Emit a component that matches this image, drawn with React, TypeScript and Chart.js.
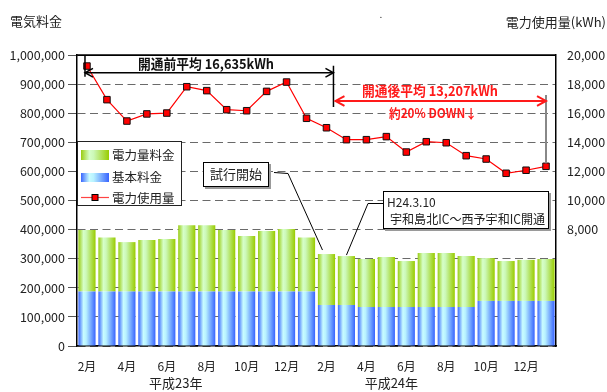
import React, { useEffect, useRef } from 'react';
import { Chart, registerables } from 'chart.js';

Chart.register(...registerables);

const FONT = "'Noto Sans CJK JP', 'Noto Sans', sans-serif";

const months = ['2月', '3月', '4月', '5月', '6月', '7月', '8月', '9月', '10月', '11月', '12月', '1月',
  '2月', '3月', '4月', '5月', '6月', '7月', '8月', '9月', '10月', '11月', '12月', '1月'];

const basicCharge = [187000, 187000, 187000, 187000, 187000, 187000, 187000, 187000, 187000, 187000, 187000, 187000,
  141000, 141000, 134000, 134000, 134000, 134000, 134000, 134000, 155000, 155000, 155000, 155000];

const energyCharge = [212000, 186000, 170000, 177000, 181000, 228000, 228000, 212000, 191000, 208000, 215000, 186000,
  175000, 168000, 165000, 172000, 158000, 186000, 186000, 175000, 147000, 137000, 141000, 144000];

const usageKWh = [19240, 16930, 15460, 15950, 16010, 17820, 17550, 16240, 16170, 17500, 18140, 15650,
  15000, 14180, 14180, 14390, 13330, 14040, 13970, 13080, 12850, 11870, 12080, 12350];

const yearLabels = ['平成23年', '平成24年'];
const seriesNames = ['電力量料金', '基本料金', '電力使用量'];
const leftTitle = '電気料金';
const rightTitle = '電力使用量(kWh)';
const rightTickMin = 8000;
const beforeText = '開通前平均 16,635kWh';
const afterText = '開通後平均 13,207kWh';
const downText = '約20% DOWN↓';
const trialText = '試行開始';
const openDate = 'H24.3.10';
const openText = '宇和島北IC～西予宇和IC開通';

const BAR_PCT = 0.86;
const BLUE_STOPS: [number, string][] = [[0, '#3a66ff'], [0.3, '#c8fcff'], [0.45, '#b8f2ff'], [1, '#3864ff']];
const GREEN_STOPS: [number, string][] = [[0, '#99cc11'], [0.3, '#d6ffc8'], [0.45, '#ccf8b8'], [1, '#99cc00']];

function barGradient(chart: any, i: number, stops: [number, string][]) {
  const xs = chart.scales && chart.scales.x;
  if (!xs) return stops[0][1];
  const cx = xs.getPixelForValue(i);
  const w = (xs.width / months.length) * BAR_PCT;
  if (!isFinite(cx) || !isFinite(w) || w <= 0) return stops[0][1];
  const g = chart.ctx.createLinearGradient(cx - w / 2, 0, cx + w / 2, 0);
  stops.forEach(([o, c]) => g.addColorStop(o, c));
  return g;
}

function swatchGradient(ctx: CanvasRenderingContext2D, x: number, w: number, stops: [number, string][]) {
  const g = ctx.createLinearGradient(x, 0, x + w, 0);
  stops.forEach(([o, c]) => g.addColorStop(o, c));
  return g;
}

function chevron(ctx: CanvasRenderingContext2D, x: number, y: number, dir: number, size: number) {
  ctx.beginPath();
  ctx.moveTo(x - dir * size, y - size * 0.55);
  ctx.lineTo(x, y);
  ctx.lineTo(x - dir * size, y + size * 0.55);
  ctx.stroke();
}

function calloutBox(ctx: CanvasRenderingContext2D, x: number, y: number, w: number, h: number) {
  ctx.fillStyle = '#9a9a9a';
  ctx.fillRect(x + 2, y + 2, w, h);
  ctx.fillStyle = '#fff';
  ctx.fillRect(x, y, w, h);
  ctx.strokeStyle = '#000';
  ctx.lineWidth = 1;
  ctx.strokeRect(x + 0.5, y + 0.5, w - 1, h - 1);
}

const overlayPlugin = {
  id: 'overlay',
  afterDraw(chart: any) {
    const { ctx, chartArea: a, scales } = chart;
    const xs = scales.x;
    const ys = scales.y;
    const y1 = scales.y1;
    const X = (i: number) => xs.getPixelForValue(i);
    const U = (v: number) => y1.getPixelForValue(v);
    ctx.save();

    // top border
    ctx.strokeStyle = '#000';
    ctx.lineWidth = 1.5;
    ctx.beginPath();
    ctx.moveTo(a.left, a.top);
    ctx.lineTo(a.right, a.top);
    ctx.stroke();

    // axis titles
    ctx.fillStyle = '#222';
    ctx.textBaseline = 'middle';
    ctx.font = `13px ${FONT}`;
    ctx.textAlign = 'left';
    ctx.fillText(leftTitle, 10, 21);
    ctx.textAlign = 'right';
    ctx.fillText(rightTitle, 606, 22);
    ctx.textAlign = 'center';
    ctx.font = `10px ${FONT}`;
    ctx.fillText('.', 381, 14);

    // year labels
    ctx.font = `13px ${FONT}`;
    ctx.fillStyle = '#222';
    ctx.fillText(yearLabels[0], X(4.45), 383);
    ctx.fillText(yearLabels[1], X(15.25), 383);

    // legend box
    const lx = a.left, ly = 141, lw = 105, lh = 65;
    ctx.fillStyle = '#fff';
    ctx.fillRect(lx, ly, lw, lh);
    ctx.strokeStyle = '#222';
    ctx.lineWidth = 1;
    ctx.strokeRect(lx + 0.5, ly + 0.5, lw - 1, lh - 1);
    ctx.fillStyle = swatchGradient(ctx, 81, 28, GREEN_STOPS);
    ctx.fillRect(81, 150, 28, 10);
    ctx.fillStyle = swatchGradient(ctx, 81, 28, BLUE_STOPS);
    ctx.fillRect(81, 173, 28, 9);
    ctx.strokeStyle = '#ff4444';
    ctx.lineWidth = 1.2;
    ctx.beginPath();
    ctx.moveTo(81, 197.5);
    ctx.lineTo(109, 197.5);
    ctx.stroke();
    ctx.fillStyle = '#ff0000';
    ctx.fillRect(92, 194.5, 6, 6);
    ctx.strokeStyle = '#000';
    ctx.lineWidth = 1;
    ctx.strokeRect(92, 194.5, 6, 6);
    ctx.fillStyle = '#222';
    ctx.textAlign = 'left';
    ctx.font = `12.5px ${FONT}`;
    ctx.fillText(seriesNames[0], 112, 155, 66);
    ctx.fillText(seriesNames[1], 112, 177, 66);
    ctx.fillText(seriesNames[2], 112, 198, 66);

    // callout 1: trial start
    const t13 = ys.getPixelForValue(basicCharge[12] + energyCharge[12]);
    ctx.strokeStyle = '#000';
    ctx.lineWidth = 1;
    ctx.beginPath();
    ctx.moveTo(274, 172.5);
    ctx.lineTo(288, 173.5);
    ctx.lineTo(X(12) - 4, t13 - 4);
    ctx.stroke();
    calloutBox(ctx, 203, 162, 66, 25);
    ctx.fillStyle = '#222';
    ctx.textAlign = 'center';
    ctx.font = `13px ${FONT}`;
    ctx.fillText(trialText, 236, 174.5);

    // callout 2: opening
    const t14 = ys.getPixelForValue(basicCharge[13] + energyCharge[13]);
    ctx.strokeStyle = '#000';
    ctx.lineWidth = 1;
    ctx.beginPath();
    ctx.moveTo(384, 203.5);
    ctx.lineTo(368, 203.5);
    ctx.lineTo(X(13), t14 - 1);
    ctx.stroke();
    calloutBox(ctx, 383, 191, 166, 38);
    ctx.fillStyle = '#222';
    ctx.textAlign = 'left';
    ctx.font = `12px ${FONT}`;
    ctx.fillText(openDate, 387, 202.5);
    ctx.font = `12.5px ${FONT}`;
    ctx.fillText(openText, 390, 219, 155);

    // before-average arrow (black)
    const by = U(18780);
    const bx1 = X(-0.1), bx2 = X(12.35);
    const ry = U(16840);
    ctx.strokeStyle = '#000';
    ctx.lineWidth = 1.5;
    ctx.beginPath();
    ctx.moveTo(bx1, a.top);
    ctx.lineTo(bx1, by + 4);
    ctx.moveTo(bx2, by - 7);
    ctx.lineTo(bx2, ry + 6);
    ctx.moveTo(bx1, by);
    ctx.lineTo(bx2, by);
    ctx.stroke();
    chevron(ctx, bx1, by, -1, 8);
    chevron(ctx, bx2, by, 1, 8);
    ctx.fillStyle = '#111';
    ctx.textAlign = 'center';
    ctx.font = `bold 14px ${FONT}`;
    ctx.fillText(beforeText, 206, 64, 136);

    // after-average arrow (red)
    const rx1 = X(12.45), rx2 = X(23);
    ctx.strokeStyle = '#888';
    ctx.lineWidth = 2;
    ctx.beginPath();
    ctx.moveTo(rx2, ry - 6);
    ctx.lineTo(rx2, U(usageKWh[23]) - 3);
    ctx.stroke();
    ctx.strokeStyle = '#ff1a1a';
    ctx.lineWidth = 2;
    ctx.beginPath();
    ctx.moveTo(rx1, ry);
    ctx.lineTo(rx2, ry);
    ctx.stroke();
    chevron(ctx, rx1, ry, -1, 9);
    chevron(ctx, rx2, ry, 1, 9);
    ctx.fillStyle = '#ff1a1a';
    ctx.font = `bold 14px ${FONT}`;
    ctx.fillText(afterText, 430, 91, 136);
    ctx.font = `bold 13px ${FONT}`;
    ctx.fillText(downText, 433, 113, 88);

    ctx.restore();
  },
};

export default function App() {
  const ref = useRef<HTMLCanvasElement>(null);
  useEffect(() => {
    if (!ref.current) return;
    const tickFont = { family: FONT, size: 12.5 };
    const chart = new Chart(ref.current, {
      type: 'bar',
      data: {
        labels: months,
        datasets: [
          {
            type: 'line',
            label: seriesNames[2],
            data: usageKWh,
            yAxisID: 'y1',
            order: 0,
            borderColor: '#ff0000',
            borderWidth: 1.2,
            pointStyle: 'rect',
            pointRadius: 4.6,
            pointBackgroundColor: '#ff0000',
            pointBorderColor: '#111',
            pointBorderWidth: 1,
            tension: 0,
          } as any,
          {
            type: 'bar',
            label: seriesNames[1],
            data: basicCharge,
            yAxisID: 'y',
            order: 1,
            stack: 's',
            barPercentage: BAR_PCT,
            categoryPercentage: 1,
            backgroundColor: (c: any) => barGradient(c.chart, c.dataIndex, BLUE_STOPS),
            borderWidth: 0,
          },
          {
            type: 'bar',
            label: seriesNames[0],
            data: energyCharge,
            yAxisID: 'y',
            order: 1,
            stack: 's',
            barPercentage: BAR_PCT,
            categoryPercentage: 1,
            backgroundColor: (c: any) => barGradient(c.chart, c.dataIndex, GREEN_STOPS),
            borderWidth: 0,
          },
        ],
      },
      options: {
        responsive: false,
        animation: false,
        devicePixelRatio: 1,
        layout: { padding: { top: 55, left: 0, right: 0, bottom: 0 } },
        plugins: { legend: { display: false }, tooltip: { enabled: false } },
        scales: {
          x: {
            stacked: true,
            offset: true,
            grid: { display: false, drawTicks: false },
            border: { display: true, color: '#000', width: 1.5 },
            ticks: {
              autoSkip: false,
              maxRotation: 0,
              minRotation: 0,
              padding: 13,
              color: '#222',
              font: { family: FONT, size: 12 },
              callback: (_v: any, i: number) => (i % 2 === 0 ? months[i] : ''),
            },
            afterFit: (s: any) => { s.height = 46; },
          },
          y: {
            stacked: true,
            position: 'left',
            min: 0,
            max: 1000000,
            ticks: {
              stepSize: 100000,
              padding: 3,
              color: '#222',
              font: tickFont,
              callback: (v: any) => Number(v).toLocaleString('en-US'),
            },
            grid: {
              color: (c: any) => (c.tick && c.tick.value >= 1000000 ? '#000' : '#6a6a6a'),
              lineWidth: 1,
              drawTicks: true,
              tickLength: 9,
              tickColor: '#555',
            },
            border: {
              display: true,
              color: '#000',
              width: 1.5,
              dash: (c: any) => (c.tick && c.tick.value >= 1000000 ? [] : [8, 4.5]),
            },
            afterFit: (s: any) => { s.width = 77; },
          },
          y1: {
            position: 'right',
            min: 0,
            max: 20000,
            grid: { display: false, drawTicks: false },
            border: { display: true, color: '#000', width: 1.5 },
            ticks: {
              stepSize: 2000,
              padding: 11,
              color: '#222',
              font: tickFont,
              callback: (v: any) => (Number(v) >= rightTickMin ? Number(v).toLocaleString('en-US') : ''),
            },
            afterFit: (s: any) => { s.width = 51; },
          },
        },
      } as any,
      plugins: [overlayPlugin],
    });
    return () => chart.destroy();
  }, []);

  return (
    <div style={{ position: 'absolute', left: 0, top: 0, width: 607, height: 392, background: '#fff' }}>
      <canvas ref={ref} width={607} height={392} style={{ display: 'block' }} />
    </div>
  );
}
